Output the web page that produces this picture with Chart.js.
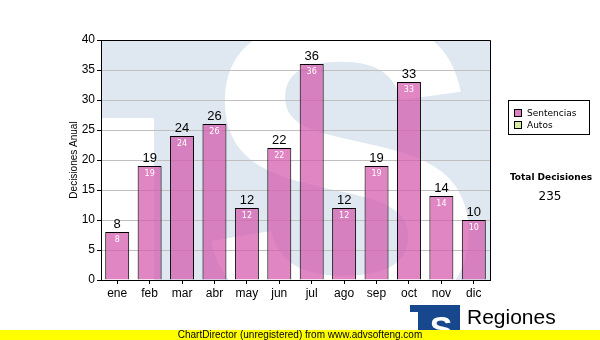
<!DOCTYPE html>
<html>
<head>
<meta charset="utf-8">
<script src="https://cdn.jsdelivr.net/npm/chart.js@4.4.1/dist/chart.umd.min.js"></script>
<style>
  html, body { margin: 0; padding: 0; background: #fff; }
  #wrap { width: 600px; height: 340px; position: relative; }
</style>
</head>
<body>
<div id="wrap"><canvas id="chart" width="600" height="340"></canvas></div>
<script>
// chart data
const months = ["ene", "feb", "mar", "abr", "may", "jun", "jul", "ago", "sep", "oct", "nov", "dic"];
const sentencias = [8, 19, 24, 26, 12, 22, 36, 12, 19, 33, 14, 10];
const seriesNames = ["Sentencias", "Autos"];
const seriesColors = ["#dd7fc0", "#d6eca0"];
const yMin = 0, yMax = 40, yStep = 5;
const totalLabel = "Total Decisiones";
const footerText = "ChartDirector (unregistered) from www.advsofteng.com";

const total = sentencias.reduce((a, b) => a + b, 0);
const FONT = "'Liberation Sans', Arial, sans-serif";
const LEGEND_FONT = "'DejaVu Sans', Verdana, sans-serif";

// light blue plot background with the big faded logo
const backdrop = {
  id: "backdrop",
  beforeDraw(chart) {
    const { ctx, chartArea: a } = chart;
    ctx.save();
    ctx.beginPath();
    ctx.rect(a.left, a.top, a.right - a.left, a.bottom - a.top);
    ctx.clip();
    ctx.fillStyle = "#dfe8f1";
    ctx.fillRect(a.left, a.top, a.right - a.left, a.bottom - a.top);
    ctx.fillStyle = "#ffffff";
    ctx.fillRect(a.left, a.top + 78, 53, a.bottom - a.top);
    ctx.font = "bold 430px " + FONT;
    ctx.textAlign = "center";
    ctx.textBaseline = "alphabetic";
    ctx.fillText("S", 342, 318);
    ctx.restore();
  },
  afterDraw(chart) {
    const { ctx, chartArea: a } = chart;
    ctx.save();
    // frame top & right
    ctx.strokeStyle = "#000";
    ctx.lineWidth = 1;
    ctx.beginPath();
    ctx.moveTo(a.left, a.top + 0.5);
    ctx.lineTo(a.right + 0.5, a.top + 0.5);
    ctx.lineTo(a.right + 0.5, a.bottom);
    ctx.stroke();

    // value labels
    const meta = chart.getDatasetMeta(0);
    ctx.textAlign = "center";
    meta.data.forEach((bar, i) => {
      ctx.fillStyle = "#000";
      ctx.font = "13px " + FONT;
      ctx.textBaseline = "bottom";
      ctx.fillText(String(sentencias[i]), bar.x, bar.y - 1);
      ctx.fillStyle = "#fff";
      ctx.font = "8px " + LEGEND_FONT;
      ctx.textBaseline = "middle";
      ctx.fillText(String(sentencias[i]), bar.x, bar.y + 8);
    });

    // legend box
    ctx.fillStyle = "#fff";
    ctx.fillRect(508, 100, 82, 35);
    ctx.strokeRect(508.5, 100.5, 81, 34);
    ctx.font = "9px " + LEGEND_FONT;
    ctx.textAlign = "left";
    ctx.textBaseline = "middle";
    seriesNames.forEach((name, i) => {
      const y = 113 + i * 12;
      ctx.fillStyle = seriesColors[i];
      ctx.fillRect(514, y - 4, 8, 8);
      ctx.strokeRect(514.5, y - 3.5, 7, 7);
      ctx.fillStyle = "#000";
      ctx.fillText(name, 527, y + 1);
    });

    // total
    ctx.textAlign = "center";
    ctx.font = "bold 9px " + LEGEND_FONT;
    ctx.fillText(totalLabel, 551, 178);
    ctx.font = "12px " + LEGEND_FONT;
    ctx.fillText(String(total), 550, 197);

    // logo
    ctx.fillStyle = "#17478c";
    ctx.fillRect(410, 305, 50, 26);
    ctx.fillStyle = "#fff";
    ctx.fillRect(410, 312, 8, 20);
    ctx.font = "bold 34px " + FONT;
    ctx.textAlign = "center";
    ctx.textBaseline = "alphabetic";
    ctx.fillText("S", 441, 340);
    ctx.fillStyle = "#000";
    ctx.textAlign = "left";
    ctx.font = "21px " + FONT;
    ctx.fillText("Regiones", 467, 324);
    ctx.font = "11px " + FONT;
    ctx.fillText("Tribunal Supremo de Justicia", 467, 338);

    // footer bar
    ctx.fillStyle = "#ffff00";
    ctx.fillRect(0, 330, 600, 10);
    ctx.fillStyle = "#000";
    ctx.font = "10px " + FONT;
    ctx.textAlign = "center";
    ctx.textBaseline = "middle";
    ctx.fillText(footerText, 300, 335);
    ctx.restore();
  }
};

new Chart(document.getElementById("chart"), {
  type: "bar",
  data: {
    labels: months,
    datasets: [{
      label: seriesNames[0],
      data: sentencias,
      backgroundColor: "rgba(212, 88, 172, 0.72)",
      borderColor: "#000",
      borderWidth: 1,
      barPercentage: 0.74,
      categoryPercentage: 1
    }]
  },
  options: {
    responsive: false,
    animation: false,
    layout: { padding: { left: 68, right: 110, top: 40, bottom: 38 } },
    plugins: { legend: { display: false }, tooltip: { enabled: false } },
    scales: {
      x: {
        afterFit: s => { s.height = 22; },
        grid: { offset: false, drawOnChartArea: false, tickLength: 4, tickColor: "#000" },
        border: { color: "#000" },
        ticks: { color: "#000", font: { family: FONT, size: 12 }, padding: 2 }
      },
      y: {
        min: yMin, max: yMax,
        afterFit: s => { s.width = 33; },
        grid: { color: "#c0c0c0", tickLength: 4, tickColor: "#000" },
        border: { color: "#000" },
        ticks: { stepSize: yStep, color: "#000", font: { family: FONT, size: 12 }, padding: 2 },
        title: { display: true, text: "Decisiones Anual", color: "#000", font: { family: FONT, size: 10 }, padding: 0 }
      }
    }
  },
  plugins: [backdrop]
});
</script>
</body>
</html>
